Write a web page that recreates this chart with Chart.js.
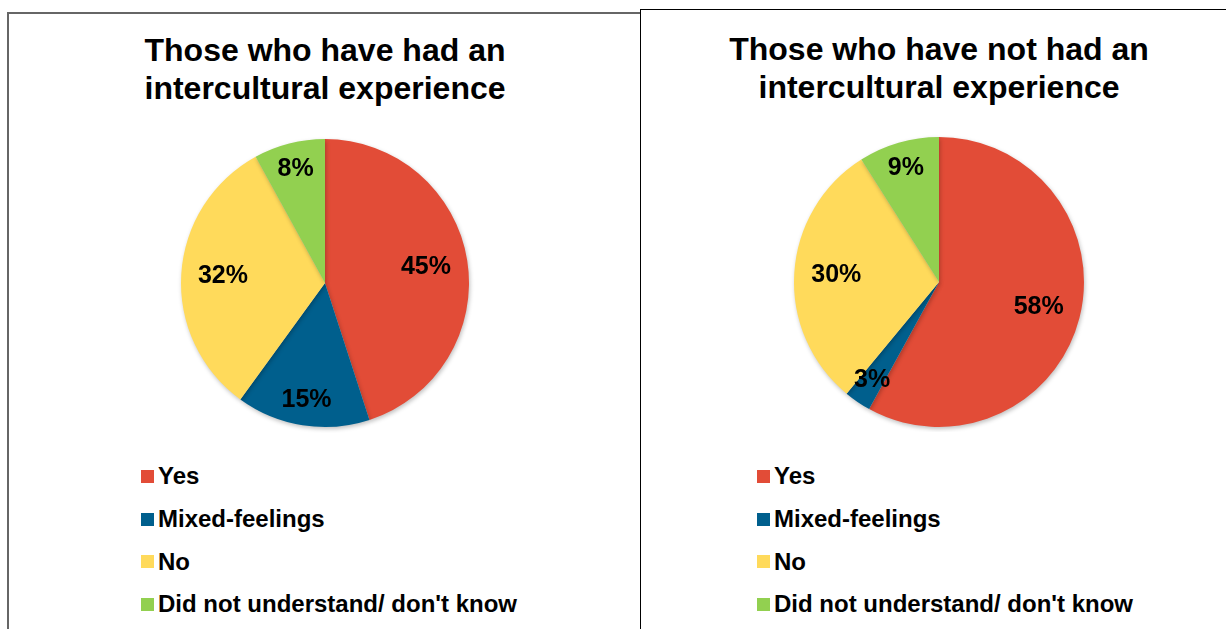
<!DOCTYPE html>
<html>
<head>
<meta charset="utf-8">
<script src="https://cdn.jsdelivr.net/npm/chart.js@4"></script>
<style>
  body{margin:0;width:1226px;height:629px;background:#fff;position:relative;overflow:hidden;font-family:"Liberation Sans",Arial,sans-serif}
  .panel{position:absolute;background:#fff}
  #p1{left:7px;top:12px;width:631px;height:640px;border:2px solid #666}
  #p2{left:640px;top:9px;width:620px;height:640px;border:1px solid #000;border-right:none}
  .title{position:absolute;width:500px;text-align:center;font-weight:bold;font-size:32px;line-height:38px;color:#000}
  .legend{position:absolute;font-weight:bold;font-size:24px;color:#000}
  .legend div{height:42.7px;display:flex;align-items:center;white-space:nowrap}
  .legend span{display:inline-block;width:13px;height:13px;margin-right:4px}
  canvas{position:absolute}
</style>
</head>
<body>
<div class="panel" id="p1"></div>
<div class="panel" id="p2"></div>
<div class="title" id="t1" style="left:75px;top:31px"></div>
<div class="title" id="t2" style="left:689px;top:30px"></div>
<div class="legend" id="l1" style="left:141px;top:455px"></div>
<div class="legend" id="l2" style="left:757px;top:455px"></div>
<canvas id="c1" width="300" height="300" style="left:175px;top:133px;width:300px;height:300px"></canvas>
<canvas id="c2" width="300" height="300" style="left:789px;top:132px;width:300px;height:300px"></canvas>
<script>
const categories = ['Yes', 'Mixed-feelings', 'No', "Did not understand/ don't know"];
const hadExperience = [45, 15, 32, 8];
const notHadExperience = [58, 3, 30, 9];
const titles = [
  ['Those who have had an', 'intercultural experience'],
  ['Those who have not had an', 'intercultural experience']
];
const colors = ['#E24C37', '#005F8D', '#FFDA5B', '#92D050'];

function text(id, lines){ document.getElementById(id).innerHTML = lines.join('<br>') }
function legend(id){
  const el = document.getElementById(id);
  categories.forEach((c,i)=>{
    const d = document.createElement('div');
    d.innerHTML = `<span style="background:${colors[i]}"></span>${c}`;
    el.appendChild(d);
  });
}

// shadow under the slices + percent labels
const pieExtras = {
  id: 'pieExtras',
  beforeDatasetsDraw(chart){
    const ctx = chart.ctx;
    ctx.save();
    ctx.shadowColor = 'rgba(0,0,0,0.25)';
    ctx.shadowBlur = 4;
    ctx.shadowOffsetX = 1;
    ctx.shadowOffsetY = 2;
  },
  afterDatasetsDraw(chart){
    const ctx = chart.ctx;
    ctx.restore();
    const meta = chart.getDatasetMeta(0);
    const vals = chart.data.datasets[0].data;
    ctx.save();
    ctx.font = 'bold 25px "Liberation Sans", Arial, sans-serif';
    ctx.fillStyle = '#000';
    ctx.textAlign = 'center';
    ctx.textBaseline = 'middle';
    meta.data.forEach((arc,i)=>{
      const a = (arc.startAngle + arc.endAngle) / 2;
      const f = vals[i] >= 25 ? 0.71 : 0.82;
      const r = arc.outerRadius * f;
      ctx.fillText(vals[i] + '%', arc.x + Math.cos(a) * r, arc.y + Math.sin(a) * r);
    });
    ctx.restore();
  }
};

function pie(id, data, pad){
  new Chart(document.getElementById(id), {
    type: 'pie',
    data: { labels: categories, datasets: [{ data, backgroundColor: colors, borderWidth: 0 }] },
    options: {
      responsive: false,
      animation: false,
      layout: { padding: pad },
      plugins: { legend: { display: false }, tooltip: { enabled: false } }
    },
    plugins: [pieExtras]
  });
}

text('t1', titles[0]);
text('t2', titles[1]);
legend('l1');
legend('l2');
pie('c1', hadExperience, 6);
pie('c2', notHadExperience, 5);
</script>
</body>
</html>
